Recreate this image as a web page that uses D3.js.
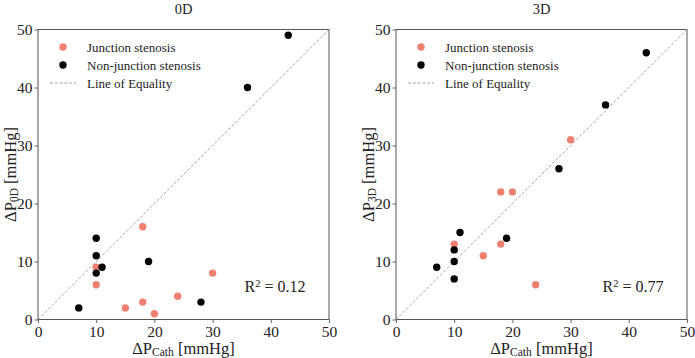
<!DOCTYPE html>
<html>
<head>
<meta charset="utf-8">
<script src="https://cdn.jsdelivr.net/npm/d3@7"></script>
<style>
  body { margin: 0; background: #fff; }
  svg { font-family: "Liberation Serif", "DejaVu Serif", serif; }
</style>
</head>
<body>
<svg id="chart" width="695" height="358"></svg>
<script>
// 0D model vs catheter
const junction0D = [[10, 9], [10, 6], [18, 16], [15, 2], [18, 3], [20, 1], [24, 4], [30, 8]];
const nonJunction0D = [[7, 2], [10, 14], [10, 11], [10, 8], [11, 9], [19, 10], [28, 3], [36, 40], [43, 49]];
// 3D model vs catheter
const junction3D = [[10, 13], [18, 22], [20, 22], [18, 13], [15, 11], [24, 6], [30, 31]];
const nonJunction3D = [[7, 9], [10, 12], [10, 10], [10, 7], [11, 15], [19, 14], [28, 26], [36, 37], [43, 46]];
const ticks = [0, 10, 20, 30, 40, 50];
const legendLabels = ["Junction stenosis", "Non-junction stenosis", "Line of Equality"];

const panels = [
  { title: "0D", sub: "0D", r2: "0.12", left: 38, junction: junction0D, non: nonJunction0D },
  { title: "3D", sub: "3D", r2: "0.77", left: 396, junction: junction3D, non: nonJunction3D }
];

const svg = d3.select("#chart");
const W = 291, plotTop = 29.5, H = 290;
const ink = "#222";

panels.forEach(p => {
  const g = svg.append("g").attr("transform", `translate(${p.left},${plotTop})`);
  const x = d3.scaleLinear().domain([0, 50]).range([0, W]);
  const y = d3.scaleLinear().domain([0, 50]).range([H, 0]);

  // axes
  const xa = g.append("g").attr("transform", `translate(0,${H})`)
    .call(d3.axisBottom(x).tickValues(ticks).tickSize(3.5).tickPadding(3));
  const ya = g.append("g")
    .call(d3.axisLeft(y).tickValues(ticks).tickSize(3.5).tickPadding(2));
  [xa, ya].forEach(a => {
    a.select(".domain").remove();
    a.selectAll("line").attr("stroke", "#555").attr("stroke-width", 0.9);
    a.selectAll("text").attr("font-size", 15.5).attr("fill", ink)
      .attr("font-family", "Liberation Serif, serif");
  });
  g.append("rect").attr("width", W).attr("height", H)
    .attr("fill", "none").attr("stroke", "#555").attr("stroke-width", 1);

  // line of equality
  g.append("line")
    .attr("x1", x(0)).attr("y1", y(0)).attr("x2", x(50)).attr("y2", y(50))
    .attr("stroke", "#999").attr("stroke-width", 0.9).attr("stroke-dasharray", "3,1.8");

  g.selectAll(".j").data(p.junction).join("circle")
    .attr("cx", d => x(d[0])).attr("cy", d => y(d[1])).attr("r", 3.7).attr("fill", "#f08070");
  g.selectAll(".n").data(p.non).join("circle")
    .attr("cx", d => x(d[0])).attr("cy", d => y(d[1])).attr("r", 3.7).attr("fill", "#000");

  // legend
  const lg = g.append("g");
  lg.append("circle").attr("cx", 25).attr("cy", 17.5).attr("r", 3.7).attr("fill", "#f08070");
  lg.append("circle").attr("cx", 25).attr("cy", 35.5).attr("r", 3.7).attr("fill", "#000");
  lg.append("line").attr("x1", 12).attr("x2", 38).attr("y1", 53.5).attr("y2", 53.5)
    .attr("stroke", "#999").attr("stroke-width", 0.9).attr("stroke-dasharray", "3,1.8");
  legendLabels.forEach((t, i) => {
    lg.append("text").attr("x", 49).attr("y", 17.5 + i * 18).attr("dy", "0.35em")
      .attr("font-size", 13).attr("fill", ink).text(t);
  });

  // R^2
  const r = g.append("text").attr("x", 237).attr("y", 256.5).attr("dy", "0.35em")
    .attr("text-anchor", "middle").attr("font-size", 16).attr("fill", ink);
  r.append("tspan").text("R");
  r.append("tspan").attr("font-size", 10.5).attr("baseline-shift", "45%").text("2");
  r.append("tspan").text(" = " + p.r2);

  // title
  g.append("text").attr("x", W / 2).attr("y", 13.5 - plotTop)
    .attr("text-anchor", "middle").attr("font-size", 14.5).attr("fill", ink).text(p.title);

  // x label
  const xl = g.append("text").attr("x", W / 2).attr("y", H + 29).attr("dy", "0.35em")
    .attr("text-anchor", "middle").attr("font-size", 16.5).attr("fill", ink);
  xl.append("tspan").text("ΔP");
  xl.append("tspan").attr("font-size", 11.5).attr("baseline-shift", "-20%").text("Cath");
  xl.append("tspan").text(" [mmHg]");

  // y label
  const yl = g.append("text").attr("transform", `translate(-28,${H / 2}) rotate(-90)`)
    .attr("dy", "0.35em").attr("text-anchor", "middle").attr("font-size", 16.5).attr("fill", ink);
  yl.append("tspan").text("ΔP");
  yl.append("tspan").attr("font-size", 11.5).attr("baseline-shift", "-20%").text(p.sub);
  yl.append("tspan").text(" [mmHg]");
});
</script>
</body>
</html>
